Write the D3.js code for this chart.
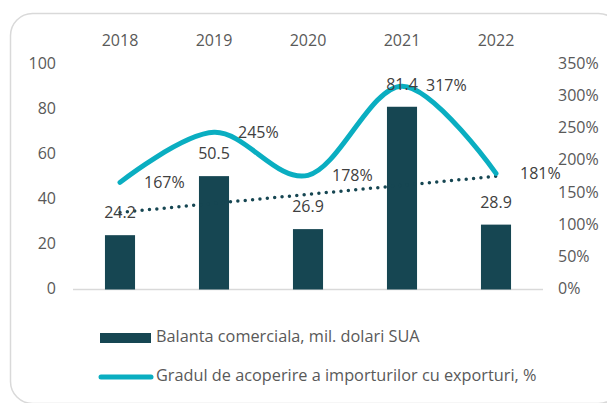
<!DOCTYPE html>
<html lang="ro">
<head>
  <meta charset="UTF-8">
  <title>Balanta comerciala</title>
  <script src="https://d3js.org/d3.v7.min.js"></script>
  <style>
    body { margin: 0; background: #fff; font-family: "Open Sans", sans-serif; }
    svg { display: block; }
    .tick-label { font-size: 16px; fill: #595959; }
    .val-label { font-size: 16px; fill: #404040; }
    .legend text { font-size: 16.3px; fill: #595959; }
  </style>
</head>
<body>
  <svg width="607" height="403"></svg>
  <script>
    const years = ['2018', '2019', '2020', '2021', '2022'];
    const balance = [24.2, 50.5, 26.9, 81.4, 28.9];      // mil. dolari SUA
    const coverage = [167, 245, 178, 317, 181];         // %
    const leftTicks = [0, 20, 40, 60, 80, 100];
    const rightTicks = [0, 50, 100, 150, 200, 250, 300, 350];
    const legendLabels = ['Balanta comerciala, mil. dolari SUA', 'Gradul de acoperire a importurilor cu exporturi, %'];

    const barColor = '#164652';
    const lineColor = '#0AAEC1';

    const svg = d3.select('svg');

    // card frame
    svg.append('rect')
      .attr('x', 10.5).attr('y', 13.5)
      .attr('width', 610).attr('height', 390)
      .attr('rx', 22)
      .attr('fill', '#fff')
      .attr('stroke', '#d9d9d9')
      .attr('stroke-width', 1.5);

    const x = d3.scaleBand().domain(years).range([73, 543]).paddingInner(0.68).paddingOuter(0.34);
    const yL = d3.scaleLinear().domain([0, 100]).range([289.5, 65]);
    const yR = d3.scaleLinear().domain([0, 350]).range([289.5, 65]);
    const cx = d => x(d) + x.bandwidth() / 2;

    // baseline
    svg.append('line')
      .attr('x1', 73).attr('x2', 543)
      .attr('y1', yL(0)).attr('y2', yL(0))
      .attr('stroke', '#d9d9d9').attr('stroke-width', 1.5);

    // year labels on top
    svg.selectAll('.year')
      .data(years)
      .enter().append('text')
      .attr('class', 'tick-label')
      .attr('x', d => cx(d))
      .attr('y', 42)
      .attr('text-anchor', 'middle')
      .attr('dominant-baseline', 'middle')
      .text(d => d);

    // left axis labels
    svg.selectAll('.lt')
      .data(leftTicks)
      .enter().append('text')
      .attr('class', 'tick-label')
      .attr('x', 56)
      .attr('y', d => yL(d))
      .attr('text-anchor', 'end')
      .attr('dominant-baseline', 'middle')
      .text(d => d);

    // right axis labels
    svg.selectAll('.rt')
      .data(rightTicks)
      .enter().append('text')
      .attr('class', 'tick-label')
      .attr('x', 558)
      .attr('y', d => yR(d))
      .attr('dominant-baseline', 'middle')
      .text(d => d + '%');

    // bars
    svg.selectAll('.bar')
      .data(years)
      .enter().append('rect')
      .attr('x', d => x(d))
      .attr('y', (d, i) => yL(balance[i]))
      .attr('width', x.bandwidth())
      .attr('height', (d, i) => yL(0) - yL(balance[i]))
      .attr('fill', barColor);

    // linear trendline of the bar series
    const idx = years.map((d, i) => i);
    const mx = d3.mean(idx), my = d3.mean(balance);
    const slope = d3.sum(idx, i => (i - mx) * (balance[i] - my)) / d3.sum(idx, i => (i - mx) ** 2);
    const trend = idx.map(i => my + slope * (i - mx));
    svg.append('line')
      .attr('x1', cx(years[0])).attr('y1', yL(trend[0]))
      .attr('x2', cx(years[years.length - 1])).attr('y2', yL(trend[trend.length - 1]))
      .attr('stroke', barColor)
      .attr('stroke-width', 3.5)
      .attr('stroke-linecap', 'round')
      .attr('stroke-dasharray', '0 7.4');

    // smoothed coverage line
    const line = d3.line()
      .x((d, i) => cx(years[i]))
      .y(d => yR(d))
      .curve(d3.curveCardinal.tension(0));
    svg.append('path')
      .datum(coverage)
      .attr('d', line)
      .attr('fill', 'none')
      .attr('stroke', lineColor)
      .attr('stroke-width', 5)
      .attr('stroke-linecap', 'round');

    // bar value labels
    svg.selectAll('.bl')
      .data(years)
      .enter().append('text')
      .attr('class', 'val-label')
      .attr('x', d => cx(d))
      .attr('y', (d, i) => yL(balance[i]) - 21)
      .attr('text-anchor', 'middle')
      .attr('dominant-baseline', 'middle')
      .text((d, i) => balance[i].toFixed(1));

    // coverage labels
    svg.selectAll('.cl')
      .data(years)
      .enter().append('text')
      .attr('class', 'val-label')
      .attr('x', d => cx(d) + 24)
      .attr('y', (d, i) => yR(coverage[i]) + 1)
      .attr('dominant-baseline', 'middle')
      .text((d, i) => coverage[i] + '%');

    // legend
    const legend = svg.append('g').attr('class', 'legend');
    legend.append('rect')
      .attr('x', 100).attr('y', 333)
      .attr('width', 51).attr('height', 10)
      .attr('fill', barColor);
    legend.append('text')
      .attr('x', 156).attr('y', 338)
      .attr('dominant-baseline', 'middle')
      .text(legendLabels[0]);
    legend.append('line')
      .attr('x1', 101).attr('x2', 151)
      .attr('y1', 377).attr('y2', 377)
      .attr('stroke', lineColor)
      .attr('stroke-width', 5)
      .attr('stroke-linecap', 'round');
    legend.append('text')
      .attr('x', 156).attr('y', 377)
      .attr('dominant-baseline', 'middle')
      .text(legendLabels[1]);
  </script>
</body>
</html>
